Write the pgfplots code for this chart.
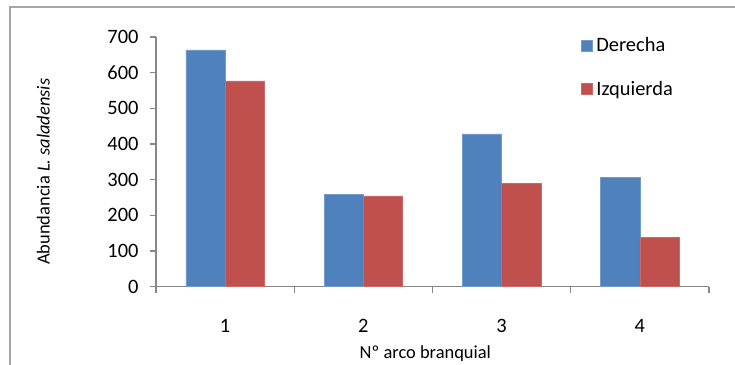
\documentclass[border=0pt]{standalone}
\usepackage{pgfplots}
\pgfplotsset{compat=1.18}
\usepackage{fontspec}
\setmainfont{Carlito}

\definecolor{derecha}{HTML}{4F81BD}
\definecolor{izquierda}{HTML}{C0504D}
\definecolor{axisgray}{HTML}{868686}
\definecolor{framegray}{HTML}{A6A6A6}

\begin{document}
\begin{tikzpicture}
% page extent and chart-area frame
\useasboundingbox (0,0) rectangle (735bp,365bp);
\draw[framegray, line width=1.3bp] (10bp,0) -- (10bp,358bp) -- (735bp,358bp);

\begin{axis}[
  at={(156bp,78.5bp)}, anchor=origin,
  scale only axis,
  width=553bp, height=249.5bp,
  xmin=0.5, xmax=4.5,
  ymin=0, ymax=700,
  axis x line*=bottom, axis y line*=left,
  axis line style={axisgray, line width=1.4bp},
  ybar=0pt, bar width=39.3bp,
  xtick={1,2,3,4},
  major x tick style={draw=none},
  minor xtick={0.5,1.5,2.5,3.5,4.5},
  minor x tick style={axisgray, line width=1.4bp},
  ytick={0,100,...,700},
  major y tick style={axisgray, line width=1.4bp},
  tick align=outside,
  major tick length=6bp, minor tick length=6bp,
  /pgf/number format/assume math mode=true,
  ticklabel style={font=\fontsize{20.5}{24}\selectfont, text=black},
  xticklabel style={yshift=-23bp},
  yticklabel style={xshift=-8bp},
  xlabel={Nº arco branquial},
  ylabel={Abundancia \textit{L. saladensis}},
  label style={font=\fontsize{18.5}{22}\selectfont},
  xlabel style={at={(axis description cs:0.487,-0.267)}, anchor=center},
  ylabel style={at={(axis description cs:-0.204,0.46)}, anchor=center},
  legend style={draw=none, fill=none, at={(rel axis cs:0.768,1.006)}, anchor=north west,
    font=\fontsize{20.5}{24}\selectfont, row sep=24bp, column sep=2bp, inner sep=0pt},
  legend cell align=left,
  legend image code/.code={\fill[#1] (0bp,-5.5bp) rectangle (11bp,5.5bp);},
  clip=false,
]
\addplot[fill=derecha, draw=derecha!80!white, line width=0.5bp] coordinates {(1,664) (2,258) (3,428) (4,306)};
\addplot[fill=izquierda, draw=izquierda!85!white, line width=0.5bp] coordinates {(1,577) (2,254) (3,289) (4,137)};
\legend{Derecha, Izquierda}
\end{axis}
\end{tikzpicture}
\end{document}
